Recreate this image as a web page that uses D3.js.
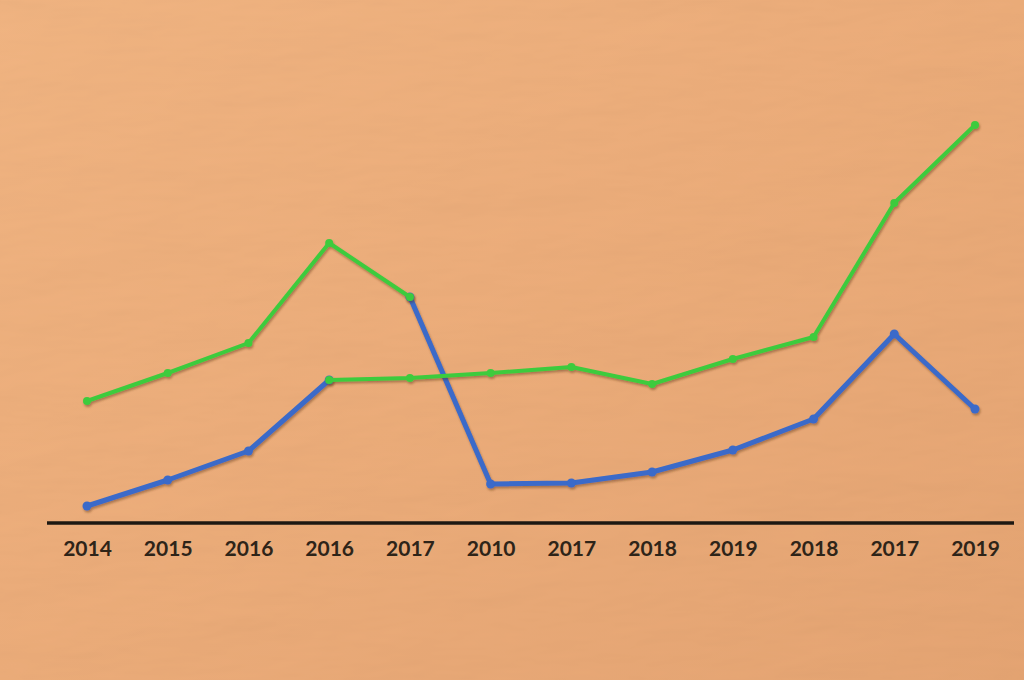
<!DOCTYPE html>
<html>
<head>
<meta charset="utf-8">
<script src="https://cdn.jsdelivr.net/npm/d3@7"></script>
<style>
  html, body { margin: 0; padding: 0; background: #ECAC79; }
  svg { display: block; }
</style>
</head>
<body>
<svg id="chart" width="1024" height="680"></svg>
<script>
// ---- data ----
const categories = ["2014","2015","2016","2016","2017","2010","2017","2018","2019","2018","2017","2019"];
// upper path: green for indices 0-4, then blue for indices 4-11
const greenUpper = [30.5, 37.5, 45, 70, 56.5];
const blueUpper  = [56.5, 9.75, 10, 12.75, 18.25, 26, 47.25, 28.5];
// lower path: blue for indices 0-3, then green for indices 3-11
const blueLower  = [4.25, 10.75, 18, 35.75];
const greenLower = [35.75, 36.25, 37.5, 39, 34.75, 41, 46.5, 80, 99.5];
const greenUpperStart = 0, blueUpperStart = 4, blueLowerStart = 0, greenLowerStart = 3;

const W = 1024, H = 680;
const svg = d3.select("#chart");

// background with texture
const defs = svg.append("defs");
const bg = defs.append("linearGradient").attr("id","bg").attr("x1","0").attr("y1","0").attr("x2","1").attr("y2","1");
bg.append("stop").attr("offset","0%").attr("stop-color","#F3B683");
bg.append("stop").attr("offset","50%").attr("stop-color","#EEAE7B");
bg.append("stop").attr("offset","100%").attr("stop-color","#E7A674");
const tex = defs.append("filter").attr("id","tex").attr("x","0").attr("y","0").attr("width","1").attr("height","1");
tex.append("feTurbulence").attr("type","fractalNoise").attr("baseFrequency","0.006 0.02").attr("numOctaves",4).attr("seed",7).attr("result","noise");
tex.append("feDiffuseLighting").attr("in","noise").attr("lighting-color","#ffffff").attr("surfaceScale",3).attr("result","light")
  .append("feDistantLight").attr("azimuth",225).attr("elevation",60);
tex.append("feComposite").attr("in","light").attr("in2","SourceGraphic").attr("operator","arithmetic")
  .attr("k1",1).attr("k2",0).attr("k3",0).attr("k4",0);
svg.append("rect").attr("width",W).attr("height",H).attr("fill","url(#bg)");
svg.append("rect").attr("width",W).attr("height",H).attr("fill","url(#bg)").attr("filter","url(#tex)").attr("opacity",0.25);

const shadow = defs.append("filter").attr("id","sh").attr("x","-10%").attr("y","-10%").attr("width","120%").attr("height","120%");
shadow.append("feDropShadow").attr("dx",1).attr("dy",2).attr("stdDeviation",1.2).attr("flood-color","#5a3415").attr("flood-opacity",0.45);

// scales
const x = d3.scalePoint().domain(d3.range(categories.length)).range([87, 975]);
const y = d3.scaleLinear().domain([0, 100]).range([523, 123]);

// axis
const axis = d3.axisBottom(x).tickSize(0).tickPadding(18).tickFormat(i => categories[i]);
const gx = svg.append("g").attr("transform", `translate(0,${y(0)})`).call(axis);
gx.select(".domain").remove();
gx.selectAll("text").attr("font-family","Lato, 'Open Sans', sans-serif").attr("font-weight","bold")
  .attr("font-size",21).attr("fill","#2e2418");
svg.append("line").attr("x1",47).attr("x2",1014).attr("y1",y(0)).attr("y2",y(0))
  .attr("stroke","#1d1812").attr("stroke-width",3.5);

// lines
const line = d3.line().x(d => x(d.i)).y(d => y(d.v));
const segs = [
  {vals: blueUpper,  start: blueUpperStart,  color: "#3A6BC9", w: 5},
  {vals: blueLower,  start: blueLowerStart,  color: "#3A6BC9", w: 5},
  {vals: greenLower, start: greenLowerStart, color: "#3ECB3E", w: 4},
  {vals: greenUpper, start: greenUpperStart, color: "#3ECB3E", w: 4}
];
segs.forEach(s => {
  const pts = s.vals.map((v, k) => ({i: s.start + k, v}));
  const g = svg.append("g").attr("filter","url(#sh)");
  g.append("path").datum(pts).attr("d", line).attr("fill","none")
    .attr("stroke", s.color).attr("stroke-width", s.w).attr("stroke-linejoin","round").attr("stroke-linecap","round");
  g.selectAll("circle").data(pts).join("circle")
    .attr("cx", d => x(d.i)).attr("cy", d => y(d.v)).attr("r", s.w === 5 ? 4.5 : 4)
    .attr("fill", s.color);
});
</script>
</body>
</html>
